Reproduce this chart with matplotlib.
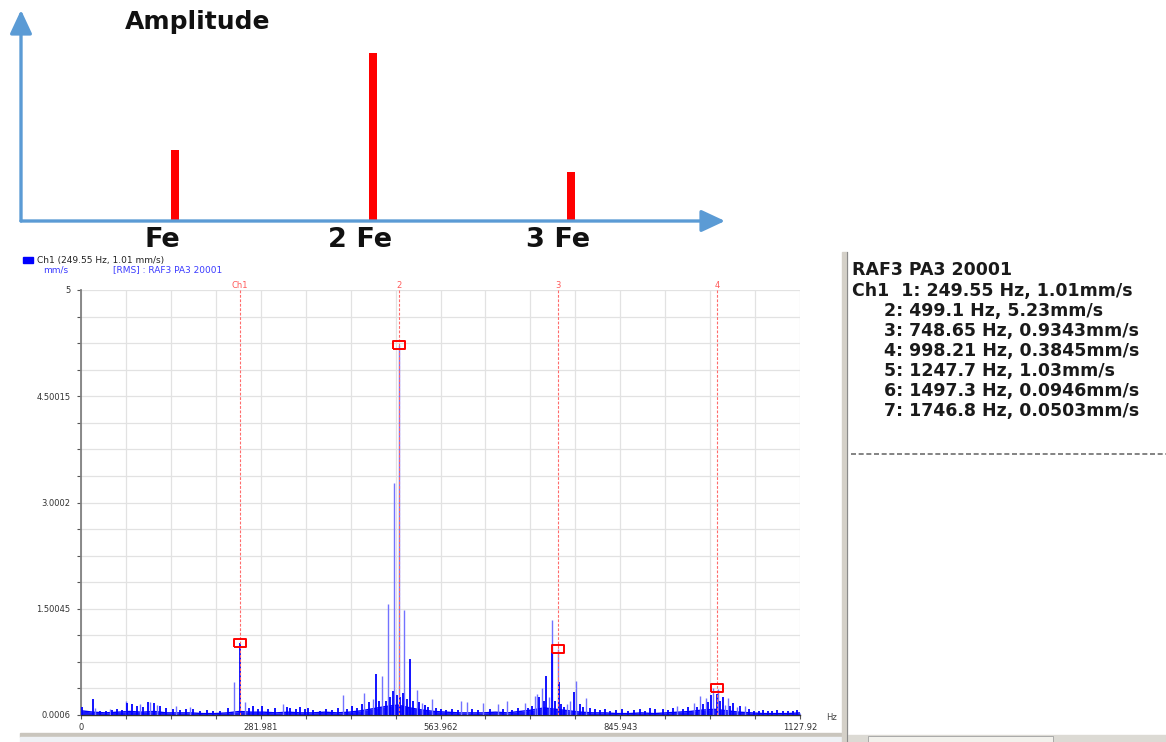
import numpy as np
import matplotlib.pyplot as plt
from matplotlib.patches import Rectangle
from matplotlib.path import Path

# ---------------- 数据 ----------------
# 上方示意图：谐波幅值（相对值）
harm_labels = ['Fe', '2 Fe', '3 Fe']
harm_amp = [0.42, 1.0, 0.29]

# 频谱：深色谱线
dark_freq = [1.6, 18.8, 29.8, 39, 48.6, 56.5, 64, 72, 80, 88, 97, 105, 114.5, 124, 133, 144, 155, 165,
             176, 187, 198, 207, 218, 231, 249.55, 263.6, 270, 277.7, 284, 293, 304, 323, 328, 337, 343.6,
             351, 356, 364, 375, 384, 394, 403, 417, 425, 433, 441, 452, 462.8, 467.5, 478.5, 484.8, 489,
             495.3, 501, 504.7, 511, 516.6, 521, 530, 540, 544, 557, 565, 573, 582, 591, 613, 623, 641.6,
             662, 676, 685.6, 701, 707.5, 719, 726, 729.5, 739.5, 743.6, 749.5, 753, 757.7, 773, 783,
             787.5, 798.5, 806, 814, 822, 830, 839, 849, 858, 867.5, 877, 885, 892.6, 900.5, 913, 921,
             929, 944, 952, 966, 976, 983.6, 988, 997.5, 1002.5, 1006.7, 1018, 1023, 1034, 1048, 1056,
             1064, 1070, 1078, 1084, 1092, 1101, 1109, 1117, 1123]
dark_amp = [0.11, 0.22, 0.05, 0.06, 0.07, 0.08, 0.07, 0.17, 0.16, 0.13, 0.12, 0.18, 0.17, 0.13, 0.10,
            0.09, 0.07, 0.08, 0.09, 0.06, 0.07, 0.05, 0.06, 0.10, 1.01, 0.10, 0.13, 0.09, 0.13, 0.08,
            0.10, 0.12, 0.10, 0.08, 0.11, 0.08, 0.10, 0.07, 0.06, 0.09, 0.07, 0.10, 0.09, 0.13, 0.10,
            0.16, 0.18, 0.58, 0.20, 0.20, 0.25, 0.34, 0.28, 0.25, 0.31, 0.22, 0.79, 0.20, 0.18, 0.14,
            0.11, 0.10, 0.08, 0.07, 0.09, 0.07, 0.08, 0.07, 0.09, 0.08, 0.07, 0.10, 0.10, 0.13, 0.26,
            0.20, 0.555, 0.89, 0.20, 0.46, 0.15, 0.12, 0.33, 0.16, 0.12, 0.10, 0.08, 0.07, 0.08, 0.06,
            0.07, 0.09, 0.06, 0.07, 0.08, 0.06, 0.10, 0.08, 0.08, 0.07, 0.10, 0.09, 0.12, 0.12, 0.15,
            0.18, 0.28, 0.30, 0.20, 0.26, 0.13, 0.17, 0.13, 0.08, 0.06, 0.05, 0.07, 0.06, 0.05, 0.07,
            0.05, 0.06, 0.05, 0.07]

# 频谱：浅色谱线
light_freq = [22, 45, 70.6, 92, 108, 119, 149, 171, 240.8, 257, 317, 410.6, 444, 458, 472.7, 482, 491,
              499.1, 507, 526.6, 535, 550.6, 596, 605.5, 630.6, 654, 668, 696.5, 712, 715, 722.8, 734,
              739, 748.65, 762, 767, 776.6, 792, 935, 962, 971, 980, 992, 1000, 1010, 1014.5, 1029, 1042]
light_amp = [0.10, 0.09, 0.20, 0.15, 0.19, 0.14, 0.13, 0.11, 0.47, 0.18, 0.16, 0.28, 0.31, 0.22, 0.55,
             1.57, 3.28, 5.23, 1.48, 0.35, 0.17, 0.22, 0.20, 0.19, 0.17, 0.15, 0.20, 0.17, 0.27, 0.29,
             0.38, 0.25, 1.34, 0.934, 0.16, 0.20, 0.48, 0.24, 0.13, 0.17, 0.27, 0.24, 0.38, 0.37, 0.14,
             0.24, 0.12, 0.13]

# 底噪
floor_amp = [0.06, 0.04, 0.03, 0.04, 0.05, 0.04, 0.05, 0.03, 0.03, 0.03, 0.02, 0.02,
             0.03, 0.05, 0.04, 0.04, 0.03, 0.04, 0.03, 0.03, 0.04, 0.03, 0.04, 0.06,
             0.09, 0.12, 0.14, 0.10, 0.07, 0.05, 0.04, 0.03, 0.03, 0.03, 0.04, 0.03,
             0.05, 0.07, 0.10, 0.08, 0.06, 0.04, 0.03, 0.03, 0.02, 0.02, 0.03, 0.02,
             0.03, 0.04, 0.05, 0.07, 0.08, 0.06, 0.04, 0.03, 0.02, 0.02, 0.02, 0.03]

# 光标
cursor_labels = ['Ch1', '2', '3', '4']
cursor_freq = [249.55, 499.1, 748.65, 998.21]
cursor_amp = [1.01, 5.23, 0.9343, 0.3845]

# 坐标刻度
x_tick_labels = ['0', '281.981', '563.962', '845.943', '1127.92']
y_tick_labels = ['0.0006', '1.50045', '3.0002', '4.50015', '5']
y_tick_vals = [0, 1.5, 3.0, 4.5, 6.0]

# 右侧读数
readout_idx = [1, 2, 3, 4, 5, 6, 7]
readout_freq = ['249.55', '499.1', '748.65', '998.21', '1247.7', '1497.3', '1746.8']
readout_amp = ['1.01', '5.23', '0.9343', '0.3845', '1.03', '0.0946', '0.0503']

W, H = 1166, 742
fig = plt.figure(figsize=(W / 100, H / 100), dpi=100)


def px_axes(x0, y0, x1, y1):
    return fig.add_axes([x0 / W, 1 - y1 / H, (x1 - x0) / W, (y1 - y0) / H])


# ---------------- 上方示意图 ----------------
arrow_c = '#5b9bd5'
ax_top = px_axes(21, 10, 725, 221)
# 柱子稍微偏右于标签
ax_top.bar(np.arange(len(harm_labels)) + 0.065, harm_amp, width=8 / 198, color='#ff0000', zorder=3)
ax_top.set_xlim(-0.712, 2.843)
ax_top.set_ylim(0, 1.256)
for s in ax_top.spines.values():
    s.set_visible(False)
ax_top.set_yticks([])
ax_top.set_xticks(range(len(harm_labels)))
ax_top.set_xticklabels(harm_labels, fontsize=19.5, fontweight='bold', color='#111111')
ax_top.tick_params(axis='x', length=0, pad=4)
ax_top.patch.set_alpha(0)
aprops = dict(arrowstyle='-|>,head_length=0.9,head_width=0.42', mutation_scale=16,
              lw=2.4, color=arrow_c, shrinkA=0, shrinkB=0)
ax_top.annotate('', xy=(1, 0), xytext=(0, 0), xycoords='axes fraction', arrowprops=aprops)
ax_top.annotate('', xy=(0, 1), xytext=(0, 0), xycoords='axes fraction', arrowprops=aprops)
fig.text(125 / W, 1 - 22 / H, 'Amplitude', fontsize=18, fontweight='bold', va='center',
         color='#111111')

# ---------------- 频谱图 ----------------
ax = px_axes(81, 290, 800, 715)
x_tick_vals = [float(v) for v in x_tick_labels]
ax.set_xlim(0, x_tick_vals[-1])
ax.set_ylim(0, 6)

ax.set_xticks(x_tick_vals)
ax.set_xticklabels(x_tick_labels)
ax.set_xticks(np.arange(0, x_tick_vals[-1] + 1, x_tick_vals[1] / 4), minor=True)
ax.set_yticks(y_tick_vals)
ax.set_yticklabels(y_tick_labels)
ax.set_yticks(np.arange(0, 6.01, 0.375), minor=True)
ax.grid(True, which='both', color='#e2e2e2', lw=0.9, zorder=0)
ax.tick_params(which='both', direction='out', length=2.6, width=0.8, color='#555555',
               labelsize=6, labelcolor='#333333')
ax.tick_params(axis='y', pad=5)
ax.tick_params(axis='x', pad=3)
ax.spines['top'].set_visible(False)
ax.spines['right'].set_visible(False)
ax.spines['left'].set_color('#808080')
ax.spines['left'].set_linewidth(1.3)
ax.spines['bottom'].set_color('#303030')
ax.spines['bottom'].set_linewidth(1.0)

floor_freq = np.linspace(0, x_tick_vals[-1], len(floor_amp))
ax.fill_between(floor_freq, 0, floor_amp, color='#1a1aff', lw=0, zorder=2)
ax.plot(floor_freq, floor_amp, color='#0000ff', lw=1.0, zorder=2)
ax.vlines(light_freq, 0, light_amp, color='#7272ff', lw=1.0, zorder=3)
ax.vlines(dark_freq, 0, dark_amp, color='#0000ff', lw=1.3, zorder=4)

# 光标线和标记
for f, lab in zip(cursor_freq, cursor_labels):
    ax.axvline(f, color='#ff6b6b', lw=0.8, ls=(0, (2.5, 1.5)), zorder=5)
    ax.text(f, 6.0, lab, color='#ff5a5a', fontsize=6, ha='center', va='bottom',
            clip_on=False)
box = Path([(-1.5, -1), (1.5, -1), (1.5, 1), (-1.5, 1), (-1.5, -1)])
ax.plot(cursor_freq, cursor_amp, ls='none', marker=box, ms=8, mfc='none', mec='#ff0000',
        mew=1.4, zorder=6, clip_on=False)

# ---------------- 像素叠加层 ----------------
ov = fig.add_axes([0, 0, 1, 1], zorder=10)
ov.set_xlim(0, W)
ov.set_ylim(H, 0)
ov.axis('off')
ov.patch.set_alpha(0)

# 图例
ov.add_patch(Rectangle((23, 257), 10, 6, color='#0000ff'))
ov.text(37, 260, 'Ch1 (249.55 Hz, 1.01 mm/s)', fontsize=6.5, color='#222222', va='center')
ov.text(43, 270, 'mm/s', fontsize=6.5, color='#3b3bff', va='center')
ov.text(113, 270, '[RMS] : RAF3 PA3 20001', fontsize=6.5, color='#3b3bff', va='center')
ov.text(826, 718, 'Hz', fontsize=6, color='#444444', va='center')

# 左侧底部条
ov.add_patch(Rectangle((20, 733), 822, 4, color='#c9c5bd'))
ov.add_patch(Rectangle((20, 737), 822, 5, color='#eef1f5'))

# 右侧面板
ov.add_patch(Rectangle((842, 252), 5, 490, color='#d4d0c8'))
ov.plot([847, 847], [252, 742], color='#8a8a8a', lw=0.8)
ov.add_patch(Rectangle((848, 735), 318, 7, color='#dcdad4'))
ov.add_patch(Rectangle((868, 736), 185, 6, facecolor='#f2f1ec', edgecolor='#a0a0a0', lw=0.6))
ov.plot([851, 1166], [454, 454], color='#6e6e6e', lw=1.2, ls=(0, (3, 1.6)))

ov.text(852, 270, 'RAF3 PA3 20001', fontsize=12.5, fontweight='bold', va='center', color='#1a1a1a')
for i, (n, fq, am) in enumerate(zip(readout_idx, readout_freq, readout_amp)):
    y = 290.7 + i * 20.1
    line = f'{n}: {fq} Hz, {am}mm/s'
    if i == 0:
        ov.text(852, y, 'Ch1  ' + line, fontsize=12.5, fontweight='bold', va='center', color='#1a1a1a')
    else:
        ov.text(884, y, line, fontsize=12.5, fontweight='bold', va='center', color='#1a1a1a')

plt.savefig('out.png', dpi=100)
plt.close()
